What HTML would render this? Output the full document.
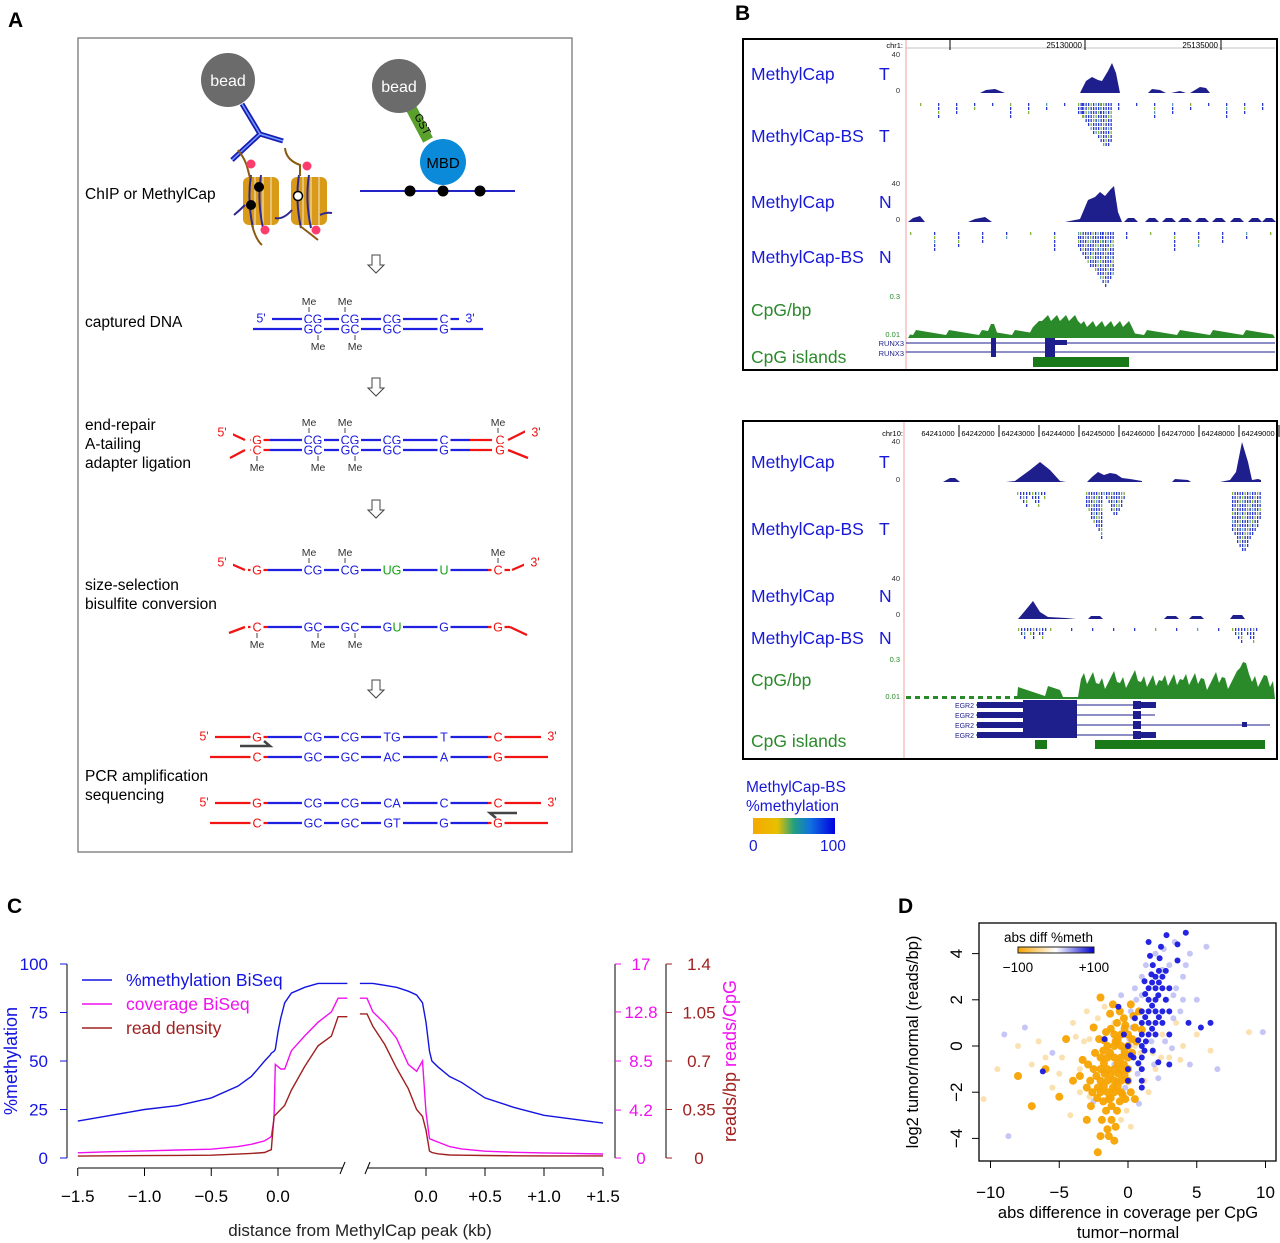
<!DOCTYPE html>
<html><head><meta charset="utf-8"><style>
html,body{margin:0;padding:0;background:#fff}
svg{display:block;font-family:"Liberation Sans",Arial,sans-serif}
</style></head><body>
<svg id="fig" width="1280" height="1243" viewBox="0 0 1280 1243" xmlns="http://www.w3.org/2000/svg">
<defs><linearGradient id="mg"><stop offset="0" stop-color="#f5a800"/><stop offset="0.3" stop-color="#e8c000"/><stop offset="0.5" stop-color="#20a080"/><stop offset="0.7" stop-color="#1070e0"/><stop offset="1" stop-color="#0000e0"/></linearGradient><linearGradient id="dg"><stop offset="0" stop-color="#f5a300"/><stop offset="0.5" stop-color="#ffffff"/><stop offset="1" stop-color="#0000d0"/></linearGradient></defs>
<g id="pA"></g>
<g id="pB"></g>
<g id="pC"></g>
<g id="pD"></g>
</svg>
<script>
// ---------- Panel C data ----------
const distLeft  = [-1.5,-1.25,-1.0,-0.75,-0.5,-0.3,-0.2,-0.15,-0.1,-0.06,-0.05,-0.03,-0.02,0,0.02,0.05,0.1,0.2,0.3,0.4,0.45,0.52];
const methLeft  = [19,22,25,27,31,37,42,46,50,53,54,55,56,65,72,80,85,88,90,90,90,90];
const covLeft   = [0.46,0.55,0.62,0.7,0.77,1.0,1.2,1.35,1.5,1.8,1.9,3.4,8.2,8.0,7.8,7.8,9.4,10.7,11.9,12.8,14,14];
const readLeft  = [0.014,0.016,0.017,0.019,0.02,0.028,0.033,0.036,0.04,0.056,0.06,0.3,0.31,0.33,0.35,0.38,0.49,0.66,0.81,0.88,1.02,1.02];
const distRight = [-0.56,-0.5,-0.45,-0.35,-0.25,-0.15,-0.08,-0.03,0,0.03,0.05,0.1,0.2,0.3,0.5,0.75,1.0,1.25,1.5];
const methRight = [90,90,90,89,88,86,84,80,70,55,50,47,42,39,31,26,22,20,18];
const covRight  = [14,14,12.8,11.8,10.5,8.2,7.6,8.5,4,1.7,1.6,1.4,1.0,0.8,0.6,0.5,0.45,0.4,0.35];
const readRight = [1.04,1.04,0.95,0.82,0.65,0.5,0.35,0.3,0.2,0.05,0.04,0.03,0.022,0.02,0.018,0.016,0.015,0.015,0.015];
const methTicks = [0,25,50,75,100];
const covTicks = [0,4.2,8.5,12.8,17];
const readTicks = [0,0.35,0.7,1.05,1.4];
const readTickLabels = ['0','0.35','0.7','1.05','1.4'];
const xTicksLeft = [-1.5,-1.0,-0.5,0.0];
const xTickLabelsLeft = ['\u22121.5','\u22121.0','\u22120.5','0.0'];
const xTicksRight = [0.0,0.5,1.0,1.5];
const xTickLabelsRight = ['0.0','+0.5','+1.0','+1.5'];

// ---------- Panel D data ----------
const scatOrange = [[-2,-2],[-1.5,-2],[-1,-2],[-0.5,-2],[-2,-1.5],[-1.5,-1.5],[-1,-1.5],[-0.5,-1.5],[0,-1.5],[-2.5,-1],[-2,-1],[-1.5,-1],[-1,-1],[-0.5,-1],[0,-1],[-2,-0.5],[-1.5,-0.5],[-1,-0.5],[-0.5,-0.5],[0,-0.5],[-1.5,0],[-1,0],[-0.5,0],[0,0],[-1,0.5],[-0.5,0.5],[0,0.5],[-1.8,-2.4],[-1.2,-2.6],[-0.8,-2.8],[-1.2,-3.2],[-1.5,-3.6],[-2,-3.9],[-1,-4.1],[-2.2,-4.6],[-3,-3.2],[-2.7,-2.6],[-3,-1.8],[-0.3,1.2],[0.2,1.8],[-2,2.1],[-1.3,1.4],[-2.5,0.8],[-4,-1.5],[-5,-2.2],[-7,-2.6],[-8,-1.3],[-6,-1],[-4.5,0.3],[-3.3,-0.6],[1,0.7],[0.5,-2.3],[-0.2,-2.3],[-1.7,-1.2],[-1.3,-0.3],[-0.7,-1.2],[-0.3,-0.8],[-2.3,-1.3],[-0.9,0.2],[0.3,-0.3],[0.6,0.2],[-1.8,-0.2],[-2.2,-1.8],[-1.1,-1.8],[-0.6,-2.4],[-1.6,-2.8],[-2.4,-0.3],[-0.2,0.9],[0.4,1.3],[-0.8,1.0],[-1.75,-1.75],[-1.25,-1.25],[-0.75,-0.75],[-0.25,-0.25],[-1.75,-0.75],[-1.25,-2.25],[-0.75,-1.75],[-0.25,-1.25],[-2.25,-2.25],[-1.75,0.25],[-1.25,0.75],[-0.75,0.25],[-0.25,0.75],[-2.75,-1.5],[-2.6,-2.0],[-1.4,-2.3],[-0.4,-2.1],[0.2,-2],[-2.1,0.3],[-1.6,0.6],[0.5,0.8],[0.3,0.3],[-1.9,-3.2],[-0.9,-3.5],[-1.4,-3.9],[0.8,1.5],[-0.6,1.5],[-1.1,1.8],[-2.9,-0.8],[-3.5,-1.3]];
const scatOrangeLight = [[-10.5,-2.3],[-9.5,-1],[-8,0],[-6,-0.5],[-5,-1.2],[-4,1],[-3.5,-2],[-3,1.5],[2,-1],[3,-0.5],[4,0],[5,0.5],[8.8,0.6],[1.5,-2],[2.5,0.5],[-1,1],[0.8,-0.8],[-2.8,0.3],[-4.2,-3],[-0.5,-3.2],[1.2,-1.5],[3.5,1],[6,-0.2],[-7,-0.8],[-3.5,-1],[-2.8,-2.2],[0.5,0],[-0.1,-2.8],[-3.2,0.2],[1.8,-0.3],[-4.8,-0.5],[-3.8,0.4],[-2.2,1.2],[-1.7,1.7],[0.9,-0.3],[2.4,-0.5],[3.8,-0.6],[-6.5,0.2],[-5.5,-1.8],[0.2,-3.5]];
const scatBlueLight = [[0.5,2.5],[1,3],[3,3.5],[3.5,2.5],[4,3],[4,2],[4.5,4],[5,2],[5.7,4.3],[2,4],[0.8,-2.5],[2.2,-1.4],[4.5,-0.8],[6.5,-1],[-9,0.5],[-8.7,-3.9],[-7.5,0.8],[-5.5,-0.3],[9.8,0.6],[-0.5,2.2],[1,2.2],[2.8,2],[3.2,-0.1],[-1,-0.8],[0.3,0.8],[1.3,3.5],[2.5,3.3],[3.3,1.2],[0.2,1.5],[1.7,0.2],[2.7,0.2],[-1.8,-1.1],[-2.5,-2.4],[0.7,-1.2],[3.3,2.2],[3.8,1.5],[0.6,2],[0.1,0.3],[2.6,4.2],[3.4,4.5],[4.2,3.5],[-0.8,-1.5],[-0.2,-1.8],[1.9,-0.8]];
const scatBlue = [[1,0],[1,-0.5],[1,-1],[1,-1.5],[1,0.5],[1,1],[1,1.5],[1.5,0.5],[1.5,1],[1.5,1.5],[1.5,2],[1.5,2.5],[2,0.5],[2,1],[2,1.5],[2,2],[2,2.5],[2,3],[2.5,1],[2.5,1.5],[2.5,2.5],[2.5,3],[3,1.5],[3,2.5],[3,0.5],[0,0],[0,-1],[0,-1.5],[-0.3,0.5],[-1.7,0.3],[0.5,1.2],[-0.7,1.7],[1.8,3.5],[2.3,3.8],[1.5,4.5],[2.8,4.8],[4.2,4.9],[3.6,4.4],[4.4,1],[6,1],[5.3,0.8],[3,-0.8],[3.6,3.7],[-6.2,-1.1],[2.2,-0.7],[1.2,2.8],[1.7,3.1],[2.2,2.2],[1.3,0.2],[1.8,-0.2],[0.4,-0.5],[1.2,-0.2],[1.25,1.25],[1.75,1.75],[2.25,1.25],[2.75,2.0],[1.75,2.75],[2.25,2.75],[1.25,2.25],[2.75,3.25],[2.25,3.25],[1.75,0.75],[0.75,0.25],[0.75,-0.75],[1,-1.8],[0.2,-0.4],[1.6,3.9],[2.4,4.3]];
const dXTicks = [-10,-5,0,5,10];
const dYTicks = [-4,-2,0,2,4];

const NS='http://www.w3.org/2000/svg';
function mk(parent,tag,attrs,txt){const e=document.createElementNS(NS,tag);for(const k in attrs)e.setAttribute(k,attrs[k]);if(txt!==undefined)e.textContent=txt;parent.appendChild(e);return e;}

// ================= PANEL A =================
const A=document.getElementById('pA');
let t;
t=mk(A,'text',{x:8,y:27,'font-size':21,'font-weight':'bold'},'A');


t=mk(A,'rect',{x:78,y:38,width:494,height:814,fill:'none',stroke:'#777','stroke-width':1.3});


function bead(cx,cy,label){const c=mk(A,'circle',{cx:cx,cy:cy,r:27,fill:'#6b6b6b'});


mk(A,'text',{x:cx,y:cy+6,'font-size':16,fill:'#fff','text-anchor':'middle'},label);}
mk(A,'path',{d:'M242,104 L260,134 L232,160 M260,134 L283,141',stroke:'#1a1ab4','stroke-width':5,fill:'none'});
mk(A,'path',{d:'M242,104 L260,134 L232,160 M260,134 L283,141',stroke:'#6fa0ff','stroke-width':1.5,fill:'none'});
bead(228,80,'bead');
mk(A,'line',{x1:411,y1:108,x2:428,y2:140,stroke:'#5aa02c','stroke-width':11});
mk(A,'text',{x:0,y:0,'font-size':11,transform:'translate(414,116) rotate(62)'},'GST');
bead(399,86,'bead');
t=mk(A,'circle',{cx:443,cy:162,r:23,fill:'#0a8ad8'});


mk(A,'text',{x:443,y:168,'font-size':15,'text-anchor':'middle'},'MBD');
mk(A,'line',{x1:360,y1:191,x2:515,y2:191,stroke:'#2323c8','stroke-width':2});
[410,443,480].forEach(x=>mk(A,'circle',{cx:x,cy:191,r:5.5,fill:'#000'}));
function nuc(x){mk(A,'rect',{x:x,y:177,width:36,height:48,rx:6,fill:'#d99a17'});
for(let i=0;i<3;i++)mk(A,'line',{x1:x+12+i*8,y1:177,x2:x+12+i*8,y2:225,stroke:'#fff','stroke-width':0.8});
mk(A,'path',{d:`M${x+8},175 Q${x+4},200 ${x+10},228 M${x+18},175 Q${x+14},200 ${x+20},228`,stroke:'#302890','stroke-width':2,fill:'none'});}
nuc(243);nuc(291);
mk(A,'path',{d:'M234,215 Q240,210 245,205 M275,218 Q283,220 292,210 M320,215 Q326,212 332,213',stroke:'#302890','stroke-width':2,fill:'none'});
mk(A,'path',{d:'M238,150 Q246,160 248,170 L250,178 M285,148 Q286,160 300,165 L300,176 M252,225 Q256,240 262,245 M300,226 Q308,232 318,240',stroke:'#8a5a10','stroke-width':2,fill:'none'});
[[251,164],[307,166],[265,230],[316,230]].forEach(p=>mk(A,'circle',{cx:p[0],cy:p[1],r:4.5,fill:'#ff3c6e'}));
mk(A,'circle',{cx:259,cy:187,r:5,fill:'#000'});mk(A,'circle',{cx:251,cy:205,r:5,fill:'#000'});
mk(A,'circle',{cx:298,cy:196,r:4.5,fill:'#fff',stroke:'#000','stroke-width':1.5});
function lab(y,lines){lines.forEach((s,i)=>{const e=mk(A,'text',{x:85,y:y+i*19,'font-size':15.5},s);

});}
lab(199,['ChIP or MethylCap']);
lab(327,['captured DNA']);
lab(430,['end-repair','A-tailing','adapter ligation']);
lab(590,['size-selection','bisulfite conversion']);
lab(781,['PCR amplification','sequencing']);
[265,388,510,690].forEach(y=>{const e=mk(A,'path',{d:`M372,${y-10} h8 v10 h4 l-8,8 l-8,-8 h4 z`,fill:'#fff',stroke:'#444','stroke-width':1});

});
const BL='#2020e0',RD='#f01414',GR='#14a014';
function line(x1,y1,x2,y2,c){mk(A,'line',{x1,y1,x2,y2,stroke:c,'stroke-width':2.3});}
function lt(x,y,s,c){const w=s.length*9+4;mk(A,'rect',{x:x-w/2,y:y-6,width:w,height:12,fill:'#fff'});mk(A,'text',{x,y:y+4.5,'font-size':12.5,fill:c,'text-anchor':'middle'},s);}
function me(x,y,up){mk(A,'line',{x1:x,y1:up?y-7:y+6,x2:x,y2:up?y-12:y+11,stroke:'#444','stroke-width':1});mk(A,'text',{x,y:up?y-14:y+21,'font-size':10.5,'text-anchor':'middle',fill:'#333'},'Me');}
line(268,319,466,319,BL);line(253,329,483,329,BL);
lt(261,318,"5'",BL);lt(470,318,"3'",BL);
[[313,'CG'],[350,'CG'],[392,'CG'],[444,'C']].forEach(p=>lt(p[0],319,p[1],BL));
[[313,'GC'],[350,'GC'],[392,'GC'],[444,'G']].forEach(p=>lt(p[0],329,p[1],BL));
me(309,319,1);me(345,319,1);me(318,329,0);me(355,329,0);
line(270,440,470,440,BL);line(270,450,470,450,BL);
line(250,440,270,440,RD);line(250,450,270,450,RD);line(470,440,492,440,RD);line(470,450,492,450,RD);
mk(A,'path',{d:'M230,433 L245,440 M230,458 L245,450 M528,430 L508,440 M508,450 L528,458',stroke:RD,'stroke-width':2.3,fill:'none'});
lt(222,432,"5'",RD);lt(536,432,"3'",RD);
lt(257,440,'G',RD);lt(257,450,'C',RD);lt(500,440,'C',RD);lt(500,450,'G',RD);
[[313,'CG'],[350,'CG'],[392,'CG'],[444,'C']].forEach(p=>lt(p[0],440,p[1],BL));
[[313,'GC'],[350,'GC'],[392,'GC'],[444,'G']].forEach(p=>lt(p[0],450,p[1],BL));
me(309,440,1);me(345,440,1);me(498,440,1);me(257,450,0);me(318,450,0);me(355,450,0);
line(268,570,488,570,BL);line(248,570,268,570,RD);line(488,570,510,570,RD);
mk(A,'path',{d:'M229,563 L245,570 M512,570 L528,563 M229,633 L245,627 M510,627 L527,635',stroke:RD,'stroke-width':2.3,fill:'none'});
lt(222,562,"5'",RD);lt(535,562,"3'",RD);
lt(257,570,'G',RD);lt(313,570,'CG',BL);lt(350,570,'CG',BL);lt(392,570,'UG',GR);lt(444,570,'U',GR);lt(498,570,'C',RD);
me(309,570,1);me(345,570,1);me(498,570,1);
line(268,627,488,627,BL);line(248,627,268,627,RD);line(488,627,510,627,RD);
lt(257,627,'C',RD);lt(313,627,'GC',BL);lt(350,627,'GC',BL);lt(392,627,'GU',BL);lt(444,627,'G',BL);lt(498,627,'G',RD);
mk(A,'rect',{x:393,y:621,width:9,height:12,fill:'#fff'});mk(A,'text',{x:397,y:631.5,'font-size':12.5,fill:GR,'text-anchor':'middle'},'U');
me(257,627,0);me(318,627,0);me(355,627,0);
function pcr(y,top,bot,arrowLeft){line(210,y,268,y,RD);line(268,y,488,y,BL);line(488,y,548,y,RD);
line(210,y+20,268,y+20,RD);line(268,y+20,488,y+20,BL);line(488,y+20,548,y+20,RD);
lt(204,y-1,"5'",RD);lt(552,y-1,"3'",RD);
top.forEach((s,i)=>lt([257,313,350,392,444,498][i],y,s,i==0||i==5?RD:BL));
bot.forEach((s,i)=>lt([257,313,350,392,444,498][i],y+20,s,i==0||i==5?RD:BL));
if(arrowLeft)mk(A,'path',{d:`M517,${y+10} H490 l6,5`,stroke:'#444','stroke-width':2.5,fill:'none'});
else mk(A,'path',{d:`M240,${y+9} H270 l-6,-5`,stroke:'#444','stroke-width':2.5,fill:'none'});}
pcr(737,['G','CG','CG','TG','T','C'],['C','GC','GC','AC','A','G'],false);
pcr(803,['G','CG','CG','CA','C','C'],['C','GC','GC','GT','G','G'],true);

// ================= PANEL B =================
const B=document.getElementById('pB');
t=mk(B,'text',{x:735,y:20,'font-size':21,'font-weight':'bold'},'B');


const DB='#1e1e8c',TG='#2a8a2a',LB='#1818d8';
function bTxt(x,y,s,c,sz){const e=mk(B,'text',{x,y,'font-size':sz||17.5,fill:c},s);

return e;}
function area(pts,base,c){let d=`M${pts[0][0]},${base}`;pts.forEach(p=>d+=` L${p[0]},${base-p[1]}`);d+=` L${pts[pts.length-1][0]},${base} Z`;mk(B,'path',{d,fill:c});}
function ticks(x0,x1,y,depthFn,step){for(let x=x0,i=0;x<=x1;x+=step,i++){const d=depthFn(x,i);for(let k=0;k<d;k++){const c=(i+k)%5==0?'#88b040':((i*3+k)%7==0?'#60a0c0':'#2a3ad0');mk(B,'rect',{x,y:y+k*4,width:1.3,height:3,fill:c});}}}
t=mk(B,'rect',{x:743,y:39,width:534,height:331,fill:'#fff',stroke:'#000','stroke-width':2});


mk(B,'line',{x1:906,y1:40,x2:906,y2:369,stroke:'#f0a0a0','stroke-width':1});
mk(B,'line',{x1:906,y1:48,x2:1275,y2:48,stroke:'#888','stroke-width':0.6});
[[942,''],[1077,'25130000'],[1213,'25135000']].forEach(p=>{mk(B,'line',{x1:p[0]+8,y1:40,x2:p[0]+8,y2:50,stroke:'#000'});if(p[1])mk(B,'text',{x:p[0]+5,y:48,'font-size':8,'text-anchor':'end'},p[1]);});
mk(B,'text',{x:903,y:48,'font-size':7.5,'text-anchor':'end'},'chr1:');
bTxt(751,80,'MethylCap',LB);bTxt(879,80,'T',LB);
bTxt(751,142,'MethylCap-BS',LB);bTxt(879,142,'T',LB);
bTxt(751,208,'MethylCap',LB);bTxt(879,208,'N',LB);
bTxt(751,263,'MethylCap-BS',LB);bTxt(879,263,'N',LB);
bTxt(751,316,'CpG/bp',TG);bTxt(751,363,'CpG islands',TG);
[[57,'40'],[93,'0'],[186,'40'],[222,'0']].forEach(p=>mk(B,'text',{x:900,y:p[0],'font-size':7.5,fill:'#333','text-anchor':'end'},p[1]));
mk(B,'text',{x:900,y:299,'font-size':7.5,fill:TG,'text-anchor':'end'},'0.3');
mk(B,'text',{x:900,y:337,'font-size':7.5,fill:TG,'text-anchor':'end'},'0.01');
area([[980,0],[986,3],[995,4],[1005,0]],93,DB);
area([[1080,0],[1086,12],[1092,16],[1098,13],[1102,12],[1108,22],[1112,30],[1116,20],[1120,0]],93,DB);
area([[1148,0],[1152,4],[1160,3],[1166,0]],93,DB);area([[1171,0],[1180,2],[1186,0]],93,DB);area([[1190,0],[1200,6],[1206,5],[1210,0]],93,DB);
ticks(1078,1112,103,(x,i)=>Math.max(1,12-Math.abs(x-1105)/3|0),2.5);
ticks(920,1270,103,(x,i)=>(i%3==0?1+(i%4):0),6);
area([[908,0],[913,4],[920,6],[925,0]],222,DB);area([[968,0],[975,3],[985,5],[992,0]],222,DB);
area([[1065,0],[1080,3],[1088,22],[1095,25],[1100,30],[1105,26],[1110,32],[1114,36],[1118,10],[1122,0]],222,DB);
[1124,1145,1162,1178,1195,1212,1230,1248,1262].forEach(x=>area([[x,0],[x+4,4],[x+10,4],[x+14,0]],222,DB));
ticks(1080,1114,232,(x,i)=>Math.max(1,14-Math.abs(x-1105)/3|0),2.5);
ticks(910,1270,232,(x,i)=>(i%4==0?1+(i%5):0),6);
{let pts=[[908,0]];for(let x=910;x<=1274;x+=3){let h=3+((x*7)%11)/2;if(x>1030&&x<1135)h=10+((x*13)%9)+(x>1040&&x<1080?6:0);if(Math.abs(x-993)<4)h=14;pts.push([x,h]);}pts.push([1275,0]);area(pts,338,TG);}
mk(B,'line',{x1:906,y1:343,x2:1275,y2:343,stroke:DB,'stroke-width':1});mk(B,'line',{x1:906,y1:352,x2:1275,y2:352,stroke:DB,'stroke-width':1});
mk(B,'rect',{x:991,y:338,width:5,height:19,fill:DB});mk(B,'rect',{x:1045,y:338,width:10,height:19,fill:DB});mk(B,'rect',{x:1055,y:340,width:12,height:5,fill:DB});
mk(B,'text',{x:904,y:346,'font-size':7.5,fill:DB,'text-anchor':'end'},'RUNX3');mk(B,'text',{x:904,y:356,'font-size':7.5,fill:DB,'text-anchor':'end'},'RUNX3');
mk(B,'rect',{x:1033,y:357,width:96,height:10,fill:'#1a7a1a'});
t=mk(B,'rect',{x:743,y:421,width:534,height:338,fill:'#fff',stroke:'#000','stroke-width':2});


mk(B,'line',{x1:904,y1:422,x2:904,y2:758,stroke:'#f0a0a0','stroke-width':1});
['64241000','64242000','64243000','64244000','64245000','64246000','64247000','64248000','64249000'].forEach((s,i)=>{const x=940+i*40;mk(B,'text',{x:x-2,y:436,'font-size':7.5,'text-anchor':'middle'},s);mk(B,'line',{x1:x+19,y1:425,x2:x+19,y2:437,stroke:'#000'});});
mk(B,'text',{x:903,y:436,'font-size':7.5,'text-anchor':'end'},'chr10:');
bTxt(751,468,'MethylCap',LB);bTxt(879,468,'T',LB);
bTxt(751,535,'MethylCap-BS',LB);bTxt(879,535,'T',LB);
bTxt(751,602,'MethylCap',LB);bTxt(879,602,'N',LB);
bTxt(751,644,'MethylCap-BS',LB);bTxt(879,644,'N',LB);
bTxt(751,686,'CpG/bp',TG);bTxt(751,747,'CpG islands',TG);
[[444,'40'],[482,'0'],[581,'40'],[617,'0']].forEach(p=>mk(B,'text',{x:900,y:p[0],'font-size':7.5,fill:'#333','text-anchor':'end'},p[1]));
mk(B,'text',{x:900,y:662,'font-size':7.5,fill:TG,'text-anchor':'end'},'0.3');
mk(B,'text',{x:900,y:699,'font-size':7.5,fill:TG,'text-anchor':'end'},'0.01');
area([[943,0],[950,4],[955,4],[960,0]],482,DB);
area([[1006,0],[1015,1],[1030,12],[1040,20],[1050,12],[1060,1],[1066,0]],482,DB);
area([[1087,0],[1092,5],[1098,10],[1104,7],[1110,9],[1116,8],[1122,4],[1130,3],[1142,1],[1142,0]],482,DB);
area([[1172,0],[1175,3],[1188,2],[1191,0]],482,DB);
area([[1220,0],[1230,2],[1236,10],[1242,40],[1248,20],[1252,2],[1258,3],[1261,2],[1261,0]],482,DB);
ticks(1017,1044,492,(x,i)=>1+(i%4),3);
ticks(1086,1124,492,(x,i)=>Math.max(1,18-Math.abs(x-1115)/2|0)%12+1,2.5);
ticks(1232,1260,492,(x,i)=>Math.max(1,16-Math.abs(x-1243)/2|0),2.5);
area([[1018,0],[1024,7],[1033,18],[1040,7],[1048,2],[1066,1],[1076,0]],619,DB);
[[1088,3],[1164,3],[1189,3],[1230,4]].forEach(p=>area([[p[0],0],[p[0]+3,p[1]],[p[0]+12,p[1]],[p[0]+15,0]],619,DB));
ticks(1018,1046,628,(x,i)=>1+(i%3),3);ticks(1232,1258,628,(x,i)=>1+(i%4),3);
ticks(1050,1230,628,(x,i)=>(i%3==0?1+(i%3):0),7);
{let pts=[[1017,0]];for(let x=1018;x<=1274;x+=3){let h=3+((x*7)%11);if(x>1080)h=8+((x*13)%17)+((x*5)%7);if(x>1062&&x<1080)h=2;if(x>1238&&x<1250)h+=14;pts.push([x,h]);}pts.push([1275,0]);area(pts,699,TG);}
for(let x=906;x<1015;x+=9)mk(B,'rect',{x,y:696,width:5,height:3,fill:TG});
[0,1,2,3].forEach(i=>{const y=705+i*10;mk(B,'line',{x1:976,y1:y,x2:1155,y2:y,stroke:DB,'stroke-width':1});mk(B,'rect',{x:977,y:y-3,width:100,height:6,fill:DB});mk(B,'text',{x:974,y:y+3,'font-size':7,fill:DB,'text-anchor':'end'},'EGR2');mk(B,'rect',{x:1133,y:y-4,width:8,height:8,fill:DB});});
mk(B,'rect',{x:1023,y:700,width:54,height:38,fill:DB});
mk(B,'rect',{x:1141,y:702,width:15,height:6,fill:DB});mk(B,'rect',{x:1141,y:732,width:15,height:6,fill:DB});mk(B,'line',{x1:1155,y1:725,x2:1270,y2:725,stroke:DB});mk(B,'rect',{x:1242,y:722,width:5,height:5,fill:DB});
mk(B,'rect',{x:1035,y:740,width:12,height:9,fill:'#1a7a1a'});mk(B,'rect',{x:1095,y:740,width:170,height:9,fill:'#1a7a1a'});
bTxt(746,792,'MethylCap-BS',LB,15.5);bTxt(746,811,'%methylation',LB,15.5);
t=mk(B,'rect',{x:753,y:818,width:82,height:16,fill:'url(#mg)'});


bTxt(749,851,'0',LB,15.5);bTxt(820,851,'100',LB,15.5);

// ================= PANEL C =================
const C=document.getElementById('pC');
t=mk(C,'text',{x:7,y:913,'font-size':21,'font-weight':'bold'},'C');


const xL=d=>278+d*133.5, xR=d=>426+d*118;
const Y0=1158,YH=194;
const yM=v=>Y0-v/100*YH, yCov=v=>Y0-v/17*YH, yRd=v=>Y0-v/1.4*YH;
const MAG='#f010f0',BRN='#a02020',BLU='#1414e0';
function series(xs,vals,xf,yf,c,name){const d=xs.map((x,i)=>(i?'L':'M')+xf(x).toFixed(1)+','+yf(vals[i]).toFixed(1)).join(' ');const e=mk(C,'path',{d,fill:'none',stroke:c,'stroke-width':1.4});

}
series(distLeft,methLeft,xL,yM,BLU,'line-methylation-left');series(distRight,methRight,xR,yM,BLU,'line-methylation-right');
series(distLeft,covLeft,xL,yCov,MAG,'line-coverage-left');series(distRight,covRight,xR,yCov,MAG,'line-coverage-right');
series(distLeft,readLeft,xL,yRd,BRN,'line-read-density-left');series(distRight,readRight,xR,yRd,BRN,'line-read-density-right');
mk(C,'line',{x1:67,y1:yM(0),x2:67,y2:yM(100),stroke:'#000'});
methTicks.forEach(v=>{mk(C,'line',{x1:60,y1:yM(v),x2:67,y2:yM(v),stroke:BLU});mk(C,'text',{x:48,y:yM(v)+6,'font-size':17,fill:BLU,'text-anchor':'end'},String(v));});
t=mk(C,'text',{x:0,y:0,'font-size':18,fill:BLU,'text-anchor':'middle',transform:`translate(17,${yM(50)}) rotate(-90)`},'%methylation');


mk(C,'line',{x1:615,y1:yCov(0),x2:615,y2:yCov(17),stroke:'#000'});
covTicks.forEach(v=>{mk(C,'line',{x1:615,y1:yCov(v),x2:621,y2:yCov(v),stroke:MAG});mk(C,'text',{x:641,y:yCov(v)+6,'font-size':17,fill:MAG,'text-anchor':'middle'},String(v));});
mk(C,'line',{x1:666,y1:yRd(0),x2:666,y2:yRd(1.4),stroke:'#000'});
readTicks.forEach((v,i)=>{mk(C,'line',{x1:666,y1:yRd(v),x2:672,y2:yRd(v),stroke:BRN});mk(C,'text',{x:699,y:yRd(v)+6,'font-size':17,fill:BRN,'text-anchor':'middle'},readTickLabels[i]);});
t=mk(C,'text',{x:0,y:0,'font-size':18,'text-anchor':'middle',transform:`translate(736,${yM(50)}) rotate(-90)`});


mk(t,'tspan',{fill:BRN},'reads/bp ');mk(t,'tspan',{fill:MAG},'reads/CpG');
mk(C,'line',{x1:78,y1:1168,x2:343,y2:1168,stroke:'#000'});mk(C,'line',{x1:367,y1:1168,x2:603,y2:1168,stroke:'#000'});
mk(C,'line',{x1:340,y1:1174,x2:345,y2:1162,stroke:'#000'});mk(C,'line',{x1:365,y1:1174,x2:370,y2:1162,stroke:'#000'});
xTicksLeft.forEach((v,i)=>{mk(C,'line',{x1:xL(v),y1:1168,x2:xL(v),y2:1176,stroke:'#000'});mk(C,'text',{x:xL(v),y:1202,'font-size':17,'text-anchor':'middle'},xTickLabelsLeft[i]);});
xTicksRight.forEach((v,i)=>{mk(C,'line',{x1:xR(v),y1:1168,x2:xR(v),y2:1176,stroke:'#000'});mk(C,'text',{x:xR(v),y:1202,'font-size':17,'text-anchor':'middle'},xTickLabelsRight[i]);});
t=mk(C,'text',{x:360,y:1236,'font-size':17,'text-anchor':'middle',fill:'#222'},'distance from MethylCap peak (kb)');


[['%methylation BiSeq',BLU,986],['coverage BiSeq',MAG,1010],['read density',BRN,1034]].forEach(l=>{
const g=mk(C,'g',{});


mk(g,'line',{x1:82,y1:l[2]-6,x2:112,y2:l[2]-6,stroke:l[1],'stroke-width':1.5});mk(g,'text',{x:126,y:l[2],'font-size':17.5,fill:l[1]},l[0]);});

// ================= PANEL D =================
const D=document.getElementById('pD');
t=mk(D,'text',{x:898,y:913,'font-size':21,'font-weight':'bold'},'D');


const dx=v=>1128+v*13.75, dy=v=>1046-v*23.1;
function pts(arr,fill,op,r,name){arr.forEach(p=>{const e=mk(D,'circle',{cx:dx(p[0]).toFixed(1),cy:dy(p[1]).toFixed(1),r:r,fill:fill,'fill-opacity':op});

});}
pts(scatOrangeLight,'#f8c870',0.55,3,'point-light-orange');
pts(scatBlueLight,'#a0a0f0',0.6,3,'point-light-blue');
pts(scatOrange,'#f5a300',0.95,4,'point-orange');
pts(scatBlue,'#1818e0',0.95,3,'point-blue');
t=mk(D,'rect',{x:979,y:923,width:297,height:238,fill:'none',stroke:'#000','stroke-width':1.3});


dXTicks.forEach(v=>{mk(D,'line',{x1:dx(v),y1:1161,x2:dx(v),y2:1168,stroke:'#000'});mk(D,'text',{x:dx(v),y:1198,'font-size':17,'text-anchor':'middle'},v<0?'\u2212'+(-v):String(v));});
dYTicks.forEach(v=>{mk(D,'line',{x1:972,y1:dy(v),x2:979,y2:dy(v),stroke:'#000'});mk(D,'text',{x:0,y:0,'font-size':17,'text-anchor':'middle',transform:`translate(962,${dy(v)}) rotate(-90)`},v<0?'\u2212'+(-v):String(v));});
t=mk(D,'text',{x:0,y:0,'font-size':16.5,'text-anchor':'middle',transform:'translate(918,1042) rotate(-90)'},'log2 tumor/normal (reads/bp)');


t=mk(D,'text',{x:1128,y:1218,'font-size':16.5,'text-anchor':'middle'},'abs difference in coverage per CpG');


mk(D,'text',{x:1128,y:1238,'font-size':16.5,'text-anchor':'middle'},'tumor\u2212normal');
mk(D,'text',{x:1004,y:942,'font-size':13.5},'abs diff %meth');
t=mk(D,'rect',{x:1018,y:947,width:76,height:6,fill:'url(#dg)',stroke:'#222','stroke-width':1});


mk(D,'text',{x:1018,y:972,'font-size':13.5,'text-anchor':'middle'},'\u2212100');
mk(D,'text',{x:1094,y:972,'font-size':13.5,'text-anchor':'middle'},'+100');
</script>
</body></html>
